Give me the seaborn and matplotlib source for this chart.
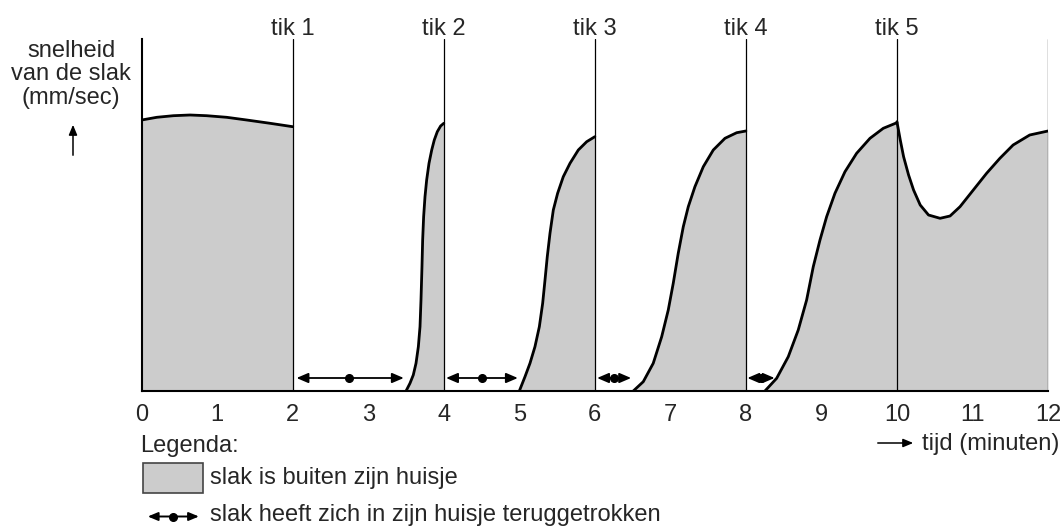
import matplotlib
matplotlib.use("Agg")
import matplotlib.pyplot as plt
import numpy as np
import pandas as pd
import seaborn as sns
from matplotlib.patches import Rectangle, FancyArrowPatch
from matplotlib.lines import Line2D

# snelheid-segmenten (x in minuten, v in willekeurige eenheden)
seg1_x = [0.0, 0.2, 0.42, 0.64, 0.86, 1.125, 1.39, 1.70, 2.0]
seg1_v = [271, 273.7, 275.3, 276, 275.3, 273.7, 271, 267.7, 264.3]
seg2_x = [3.5, 3.552, 3.596, 3.632, 3.663, 3.685, 3.698, 3.711, 3.72,
          3.733, 3.751, 3.773, 3.804, 3.84, 3.874, 3.914, 3.958, 4.0]
seg2_v = [0, 7.7, 16, 27.7, 44.3, 64.3, 91, 124.3, 151,
          174.3, 194.3, 211, 227.7, 241, 251, 259.3, 265, 267.7]
seg3_x = [5.0, 5.075, 5.141, 5.207, 5.265, 5.309, 5.34, 5.37, 5.406,
          5.45, 5.507, 5.582, 5.671, 5.781, 5.892, 6.0]
seg3_v = [0, 14.3, 27.7, 44.3, 64.3, 87.7, 111, 134.3, 157.7,
          181, 197.7, 214.3, 227.7, 241, 249.3, 254.3]
seg4_x = [6.509, 6.641, 6.773, 6.885, 6.972, 7.038, 7.104, 7.171, 7.237,
          7.325, 7.436, 7.568, 7.723, 7.878, 8.0]
seg4_v = [0, 9.3, 27.7, 54.3, 81, 107.7, 137.7, 164.3, 184.3,
          204.3, 224.3, 241, 252.7, 258.3, 260]
seg5_x = [8.252, 8.407, 8.561, 8.693, 8.804, 8.892, 8.981, 9.069, 9.179,
          9.312, 9.466, 9.643, 9.819, 10.0]
seg5_v = [0, 12.7, 34.3, 61, 91, 124.3, 151, 174.3, 197.7,
          219.3, 237.7, 252.7, 262.7, 268.3]
seg6_x = [10.0, 10.044, 10.088, 10.154, 10.22, 10.308, 10.418, 10.571,
          10.703, 10.835, 11.011, 11.187, 11.363, 11.538, 11.758, 12.0]
seg6_v = [269.3, 251, 234.3, 216, 201, 186, 176, 172.7,
          175, 184.3, 201, 217.7, 232.7, 246, 256, 260]

tik_x = [2, 4, 6, 8, 10]
tik_labels = ["tik 1", "tik 2", "tik 3", "tik 4", "tik 5"]

# slak in huisje: pijlen
arrow_start = [2.05, 4.03, 6.03, 8.02]
arrow_end = [3.47, 4.98, 6.48, 8.38]
arrow_dot = [2.75, 4.5, 6.25, 8.2]
arrow_v = 13

segments = [(seg1_x, seg1_v), (seg2_x, seg2_v), (seg3_x, seg3_v),
            (seg4_x, seg4_v), (seg5_x, seg5_v), (seg6_x, seg6_v)]
df = pd.concat(
    [pd.DataFrame({"t": x, "v": v, "seg": i}) for i, (x, v) in enumerate(segments)],
    ignore_index=True,
)

sns.set_style("white")
plt.rcParams["font.family"] = ["Liberation Sans", "DejaVu Sans"]
FS = 17

W, H = 1064, 526
fig = plt.figure(figsize=(W / 100, H / 100), dpi=100)
x0, x1, y0, y1 = 141.7, 1048, 39, 391
ax = fig.add_axes([x0 / W, 1 - y1 / H, (x1 - x0) / W, (y1 - y0) / H])

gray = "#cccccc"
for x, v in segments:
    ax.fill_between(x, 0, v, color=gray, lw=0)

for t in tik_x + [12]:
    ax.axvline(t, color="black", lw=0.9, zorder=2)

sns.lineplot(data=df, x="t", y="v", units="seg", estimator=None,
             color="black", lw=2.0, ax=ax, zorder=3)

for s, e, d in zip(arrow_start, arrow_end, arrow_dot):
    ax.annotate("", xy=(e, arrow_v), xytext=(s, arrow_v),
                arrowprops=dict(arrowstyle="<|-|>,head_length=0.7,head_width=0.3",
                                color="black", lw=1.3, shrinkA=0, shrinkB=0),
                zorder=4)
    ax.plot(d, arrow_v, "o", color="black", ms=5.5, zorder=5)

ax.set_xlim(0, 12)
ax.set_ylim(0, 352)
ax.set_xlabel("")
ax.set_ylabel("")
ax.set_xticks(range(13))
ax.set_xticks(np.arange(0.5, 12, 1), minor=True)
ax.set_yticks([])
ax.tick_params(axis="x", which="major", direction="inout", length=11, width=1.3,
               labelsize=FS, pad=4)
ax.tick_params(axis="x", which="minor", direction="inout", length=7, width=1.3)
for side in ["top", "right"]:
    ax.spines[side].set_visible(False)
for side in ["left", "bottom"]:
    ax.spines[side].set_color("black")
    ax.spines[side].set_linewidth(1.5)

for t, lab in zip(tik_x, tik_labels):
    ax.text(t, 1 + 4 / 352, lab, transform=ax.get_xaxis_transform(),
            ha="center", va="baseline", fontsize=FS)

# y-as label
fig.text(71 / W, 1 - 40 / H, "snelheid\nvan de slak\n(mm/sec)", ha="center",
         va="top", fontsize=FS, linespacing=1.08)
fig.add_artist(FancyArrowPatch(
    (73 / W, 1 - 158 / H), (73 / W, 1 - 122 / H), transform=fig.transFigure,
    arrowstyle="-|>,head_length=6,head_width=2.5", color="black", lw=1.1))

# x-as label
fig.add_artist(FancyArrowPatch(
    (875 / W, 1 - 443 / H), (916 / W, 1 - 443 / H), transform=fig.transFigure,
    arrowstyle="-|>,head_length=6,head_width=2.5", color="black", lw=1.1))
fig.text(1059 / W, 1 - 444 / H, "tijd (minuten)", ha="right", va="center",
         fontsize=FS)

# legenda
fig.text(140 / W, 1 - 446 / H, "Legenda:", ha="left", va="center", fontsize=FS)
fig.add_artist(Rectangle((142.7 / W, 1 - 493.3 / H), 60.6 / W, 30 / H,
                         transform=fig.transFigure, facecolor=gray,
                         edgecolor="#444444", lw=1.2))
fig.text(210 / W, 1 - 478 / H, "slak is buiten zijn huisje", ha="left",
         va="center", fontsize=FS)
fig.add_artist(FancyArrowPatch(
    (145 / W, 1 - 516.5 / H), (201.7 / W, 1 - 516.5 / H), transform=fig.transFigure,
    arrowstyle="<|-|>,head_length=6,head_width=2.5", color="black", lw=1.4))
fig.add_artist(Line2D([173.3 / W], [1 - 516.5 / H], marker="o", color="black",
                      ms=5.5, transform=fig.transFigure))
fig.text(210 / W, 1 - 515 / H, "slak heeft zich in zijn huisje teruggetrokken",
         ha="left", va="center", fontsize=FS)

fig.savefig("out.png", dpi=100)
